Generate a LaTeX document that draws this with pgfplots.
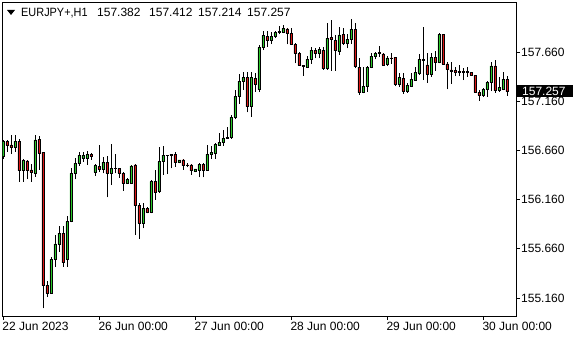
\documentclass[border=0pt]{standalone}
\usepackage{pgfplots}
\usepackage{pgfplotstable}
\usepackage{graphicx}
\pgfplotsset{compat=1.18}
\usepackage{fontspec}
\setmainfont{Liberation Sans}
\definecolor{bull}{RGB}{40,200,40}
\definecolor{bear}{RGB}{220,20,20}

\pgfplotstableread{
i O H L C
0 156.596 156.766 156.570 156.748
1 156.748 156.766 156.647 156.710
2 156.715 156.817 156.623 156.691
3 156.691 156.817 156.644 156.755
4 156.755 156.773 156.342 156.454
5 156.454 156.570 156.342 156.556
6 156.553 156.563 156.369 156.454
7 156.461 156.522 156.342 156.437
8 156.427 156.817 156.393 156.766
9 156.773 156.806 156.461 156.631
10 156.641 156.647 155.055 155.285
11 155.292 155.333 155.170 155.208
12 155.208 155.577 155.201 155.553
13 155.553 155.800 155.478 155.709
14 155.709 155.892 155.631 155.818
15 155.818 155.892 155.478 155.519
16 155.553 155.993 155.478 155.935
17 155.935 156.478 155.929 156.427
18 156.427 156.586 156.366 156.529
19 156.529 156.647 156.505 156.613
20 156.580 156.647 156.545 156.613
21 156.580 156.654 156.512 156.620
22 156.623 156.634 156.563 156.600
23 156.437 156.519 156.403 156.505
24 156.494 156.715 156.444 156.468
25 156.468 156.596 156.427 156.539
26 156.539 156.603 156.183 156.427
27 156.427 156.725 156.308 156.478
28 156.481 156.620 156.427 156.475
29 156.478 156.484 156.383 156.427
30 156.427 156.437 156.250 156.326
31 156.326 156.380 156.316 156.366
32 156.326 156.512 156.316 156.502
33 156.512 156.519 155.800 156.098
34 156.105 156.122 155.757 155.919
35 155.919 156.125 155.868 156.072
36 156.072 156.088 156.021 156.029
37 156.027 156.359 156.021 156.342
38 156.342 156.461 156.156 156.230
39 156.240 156.698 156.230 156.545
40 156.545 156.705 156.410 156.613
41 156.613 156.618 156.420 156.610
42 156.623 156.623 156.478 156.613
43 156.620 156.647 156.494 156.535
44 156.535 156.563 156.529 156.563
45 156.563 156.570 156.461 156.505
46 156.512 156.535 156.488 156.509
47 156.512 156.519 156.410 156.454
48 156.444 156.471 156.437 156.471
49 156.461 156.529 156.387 156.519
50 156.519 156.529 156.387 156.461
51 156.461 156.715 156.454 156.623
52 156.620 156.705 156.573 156.637
53 156.631 156.732 156.573 156.722
54 156.715 156.840 156.705 156.742
55 156.738 156.867 156.705 156.783
56 156.783 156.901 156.776 156.796
57 156.793 157.020 156.776 156.996
58 156.996 157.274 156.976 157.206
59 157.206 157.436 157.132 157.365
60 157.365 157.454 157.274 157.399
61 157.403 157.460 157.047 157.104
62 157.104 157.454 157.003 157.403
63 157.393 157.444 157.257 157.332
64 157.281 157.731 157.251 157.708
65 157.708 157.873 157.680 157.826
66 157.820 157.873 157.714 157.775
67 157.775 157.863 157.741 157.816
68 157.820 157.873 157.802 157.860
69 157.863 157.924 157.840 157.866
70 157.860 157.934 157.850 157.901
71 157.894 157.901 157.738 157.850
72 157.850 157.901 157.731 157.741
73 157.738 157.748 157.545 157.647
74 157.647 157.663 157.518 157.525
75 157.525 157.528 157.419 157.518
76 157.508 157.619 157.500 157.586
77 157.586 157.706 157.538 157.680
78 157.680 157.698 157.596 157.647
79 157.647 157.714 157.596 157.687
80 157.680 157.714 157.477 157.490
81 157.490 157.952 157.477 157.799
82 157.805 157.985 157.470 157.789
83 157.774 157.833 157.470 157.673
84 157.663 157.917 157.630 157.833
85 157.835 157.899 157.731 157.748
86 157.748 157.840 157.698 157.789
87 157.789 157.992 157.741 157.891
88 157.891 157.958 157.494 157.511
89 157.505 157.596 157.223 157.246
90 157.246 157.508 157.240 157.314
91 157.307 157.518 157.257 157.505
92 157.505 157.647 157.494 157.619
93 157.616 157.663 157.586 157.647
94 157.652 157.716 157.609 157.645
95 157.640 157.647 157.518 157.528
96 157.535 157.619 157.518 157.599
97 157.599 157.645 157.538 157.596
98 157.606 157.612 157.314 157.332
99 157.332 157.442 157.304 157.403
100 157.393 157.444 157.238 157.265
101 157.265 157.342 157.246 157.324
102 157.314 157.450 157.304 157.383
103 157.375 157.511 157.368 157.450
104 157.447 157.635 157.426 157.586
105 157.586 157.909 157.375 157.572
106 157.528 157.647 157.348 157.436
107 157.436 157.647 157.409 157.606
108 157.606 157.673 157.470 157.553
109 157.553 157.850 157.545 157.840
110 157.840 157.843 157.528 157.538
111 157.538 157.558 157.279 157.484
112 157.477 157.558 157.335 157.465
113 157.470 157.511 157.416 157.457
114 157.465 157.523 157.416 157.455
115 157.462 157.494 157.375 157.457
116 157.460 157.511 157.409 157.457
117 157.454 157.460 157.416 157.423
118 157.423 157.426 157.246 157.249
119 157.251 157.274 157.167 157.218
120 157.220 157.291 157.206 157.281
121 157.281 157.370 157.206 157.352
122 157.348 157.555 157.263 157.518
123 157.518 157.579 157.246 157.266
124 157.274 157.406 157.257 157.301
125 157.282 157.460 157.271 157.384
126 157.382 157.412 157.214 157.257
}\candles

\pgfplotsset{
  candleaxis/.style={
    at={(2.5pt,24pt)}, anchor=south west,
    scale only axis, width=513.5pt, height=313.5pt,
    xmin=-0.2, xmax=128.175, ymin=154.977, ymax=158.163,
    enlargelimits=false,
  }
}

\begin{document}
\begin{tikzpicture}[x=1pt,y=1pt,font=\fontsize{12}{14}\selectfont]
\path[use as bounding box, fill=white] (0,0) rectangle (580,340);

% frame, ticks, labels, wicks
\begin{axis}[candleaxis,
  axis line style={black, line width=0.8pt},
  tick style={black, line width=0.8pt},
  tick align=outside, major tick length=4pt,
  xtick pos=left, ytick pos=right, yticklabel pos=right,
  xtick={0,24,48,72,96,120},
  xticklabels={22 Jun 2023,26 Jun 00:00,27 Jun 00:00,28 Jun 00:00,29 Jun 00:00,30 Jun 00:00},
  ytick={155.16,155.66,156.16,156.66,157.16,157.66},
  yticklabels={155.160,155.660,156.160,156.660,157.160,157.660},
  xticklabel style={anchor=north west, inner sep=0pt, xshift=-1pt, yshift=-2pt},
  yticklabel style={anchor=west, inner sep=0pt, xshift=1pt},
]
\addplot[draw=none, mark=none, no markers,
  error bars/.cd, y dir=plus, y explicit, error mark=none,
  error bar style={draw=black, solid, line width=0.75pt}]
  table[x=i, y=L, y error expr=\thisrow{H}-\thisrow{L}] {\candles};
\end{axis}

% bodies
\begin{axis}[candleaxis, hide axis, ybar stacked, bar width=2.8pt]
\addplot[draw=none, fill=none] table[x=i, y expr={min(\thisrow{O},\thisrow{C})}] {\candles};
\addplot[draw=black, fill=bull, line width=0.6pt] table[x=i, y expr={max(\thisrow{C}-\thisrow{O},0)}] {\candles};
\addplot[draw=black, fill=bear, line width=0.6pt] table[x=i, y expr={max(\thisrow{O}-\thisrow{C},0)}] {\candles};
\end{axis}

% current price tag
\fill[black] (517,242.7) rectangle (573,255);
\node[anchor=base west, inner sep=0pt, text=white] at (522,244.5) {157.257};

% header
\fill[black] (7,330) -- (15,330) -- (11,325) -- cycle;
\node[anchor=base west, inner sep=0pt] at (21,323.5) {\scalebox{0.91}[1]{EURJPY+,H1}};
\node[anchor=base west, inner sep=0pt] at (97,323.5) {157.382};
\node[anchor=base west, inner sep=0pt] at (149,323.5) {157.412};
\node[anchor=base west, inner sep=0pt] at (198,323.5) {157.214};
\node[anchor=base west, inner sep=0pt] at (247,323.5) {157.257};
\end{tikzpicture}
\end{document}
